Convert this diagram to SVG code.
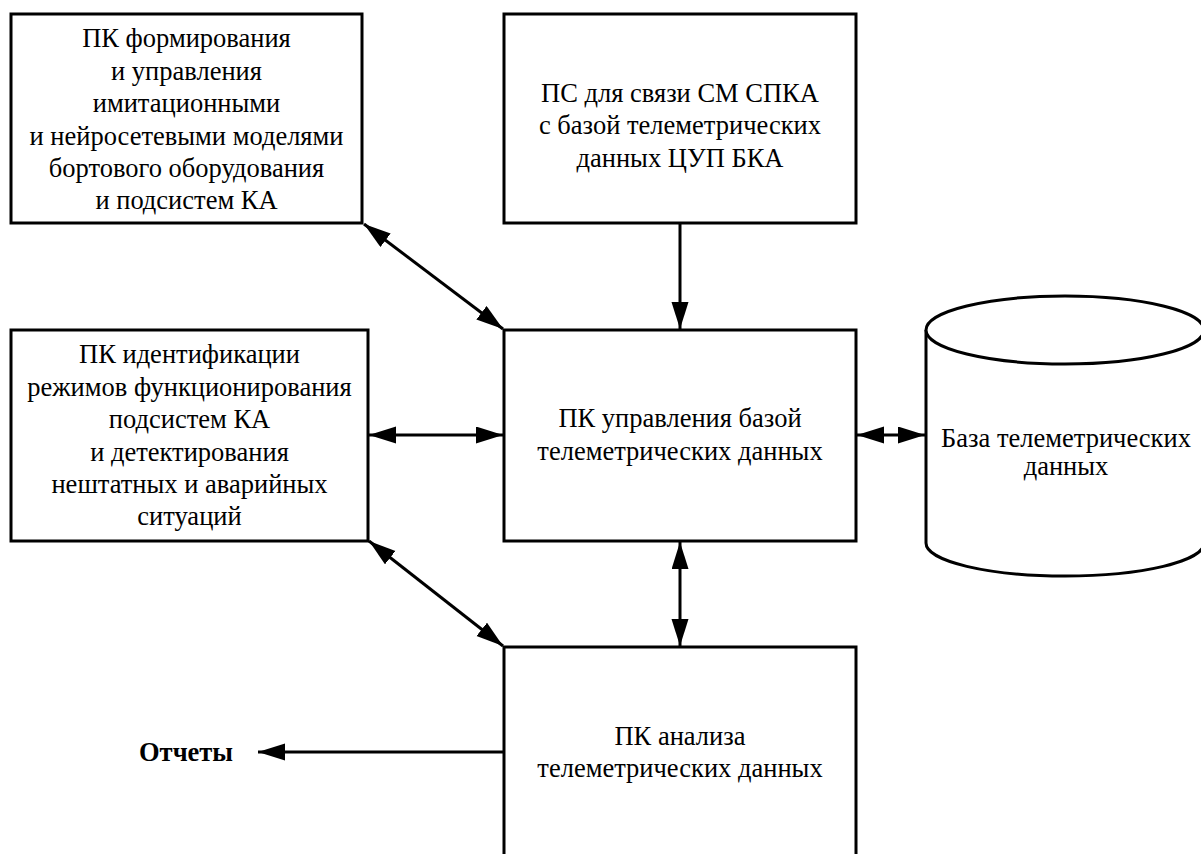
<svg xmlns="http://www.w3.org/2000/svg" width="1201" height="854" viewBox="0 0 1201 854">
<style>
.box{fill:#fff;stroke:#000;stroke-width:3}
.t{font-family:"Liberation Serif","Times New Roman",serif;font-size:26.5px;fill:#000;text-anchor:middle}
.b{font-weight:bold;text-anchor:start}
.c{stroke:#000;stroke-width:3;fill:none}
</style>
<defs>
<marker id="ah" markerUnits="userSpaceOnUse" markerWidth="28" markerHeight="18" refX="27" refY="8.5" orient="auto-start-reverse">
<path d="M0,0 L27,8.5 L0,17 z" fill="#000"/>
</marker>
</defs>
<rect width="1201" height="854" fill="#fff"/>
<g id="n1">
<rect class="box" x="11" y="14" width="351" height="209"/>
<text class="t" x="186.5" y="47">ПК формирования</text>
<text class="t" x="186.5" y="79.5">и управления</text>
<text class="t" x="186.5" y="112">имитационными</text>
<text class="t" x="186.5" y="144.5">и нейросетевыми моделями</text>
<text class="t" x="186.5" y="177">бортового оборудования</text>
<text class="t" x="186.5" y="209">и подсистем КА</text>
</g>
<g id="n2">
<rect class="box" x="504" y="14" width="352" height="209"/>
<text class="t" x="680" y="102">ПС для связи СМ СПКА</text>
<text class="t" x="680" y="134">с базой телеметрических</text>
<text class="t" x="680" y="166.5">данных ЦУП БКА</text>
</g>
<g id="n3">
<rect class="box" x="11" y="330" width="357" height="211"/>
<text class="t" x="189.5" y="363">ПК идентификации</text>
<text class="t" x="189.5" y="396">режимов функционирования</text>
<text class="t" x="189.5" y="428">подсистем КА</text>
<text class="t" x="189.5" y="461">и детектирования</text>
<text class="t" x="189.5" y="493">нештатных и аварийных</text>
<text class="t" x="189.5" y="525">ситуаций</text>
</g>
<g id="n4">
<rect class="box" x="504" y="330" width="352" height="211"/>
<text class="t" x="680" y="427">ПК управления базой</text>
<text class="t" x="680" y="459.5">телеметрических данных</text>
</g>
<g id="n5">
<path class="box" d="M926,330 L926,543 A139,33 0 0 0 1204,543 L1204,330"/>
<ellipse class="box" cx="1065" cy="330" rx="139" ry="34"/>
<text class="t" x="1066" y="447">База телеметрических</text>
<text class="t" x="1066" y="475">данных</text>
</g>
<g id="n6">
<rect class="box" x="504" y="647" width="352" height="220"/>
<text class="t" x="680" y="745">ПК анализа</text>
<text class="t" x="680" y="777">телеметрических данных</text>
</g>
<g id="n7">
<text class="t b" x="139" y="761">Отчеты</text>
</g>
<g id="connectors">
<line class="c" x1="364" y1="224" x2="503" y2="329" marker-start="url(#ah)" marker-end="url(#ah)"/>
<line class="c" x1="680" y1="223" x2="680" y2="329" marker-end="url(#ah)"/>
<line class="c" x1="369" y1="435" x2="503" y2="435" marker-start="url(#ah)" marker-end="url(#ah)"/>
<line class="c" x1="857" y1="435" x2="925" y2="435" marker-start="url(#ah)" marker-end="url(#ah)"/>
<line class="c" x1="369" y1="541" x2="503" y2="646" marker-start="url(#ah)" marker-end="url(#ah)"/>
<line class="c" x1="680" y1="542" x2="680" y2="646" marker-start="url(#ah)" marker-end="url(#ah)"/>
<line class="c" x1="503" y1="752" x2="258" y2="752" marker-end="url(#ah)"/>
</g>
</svg>
